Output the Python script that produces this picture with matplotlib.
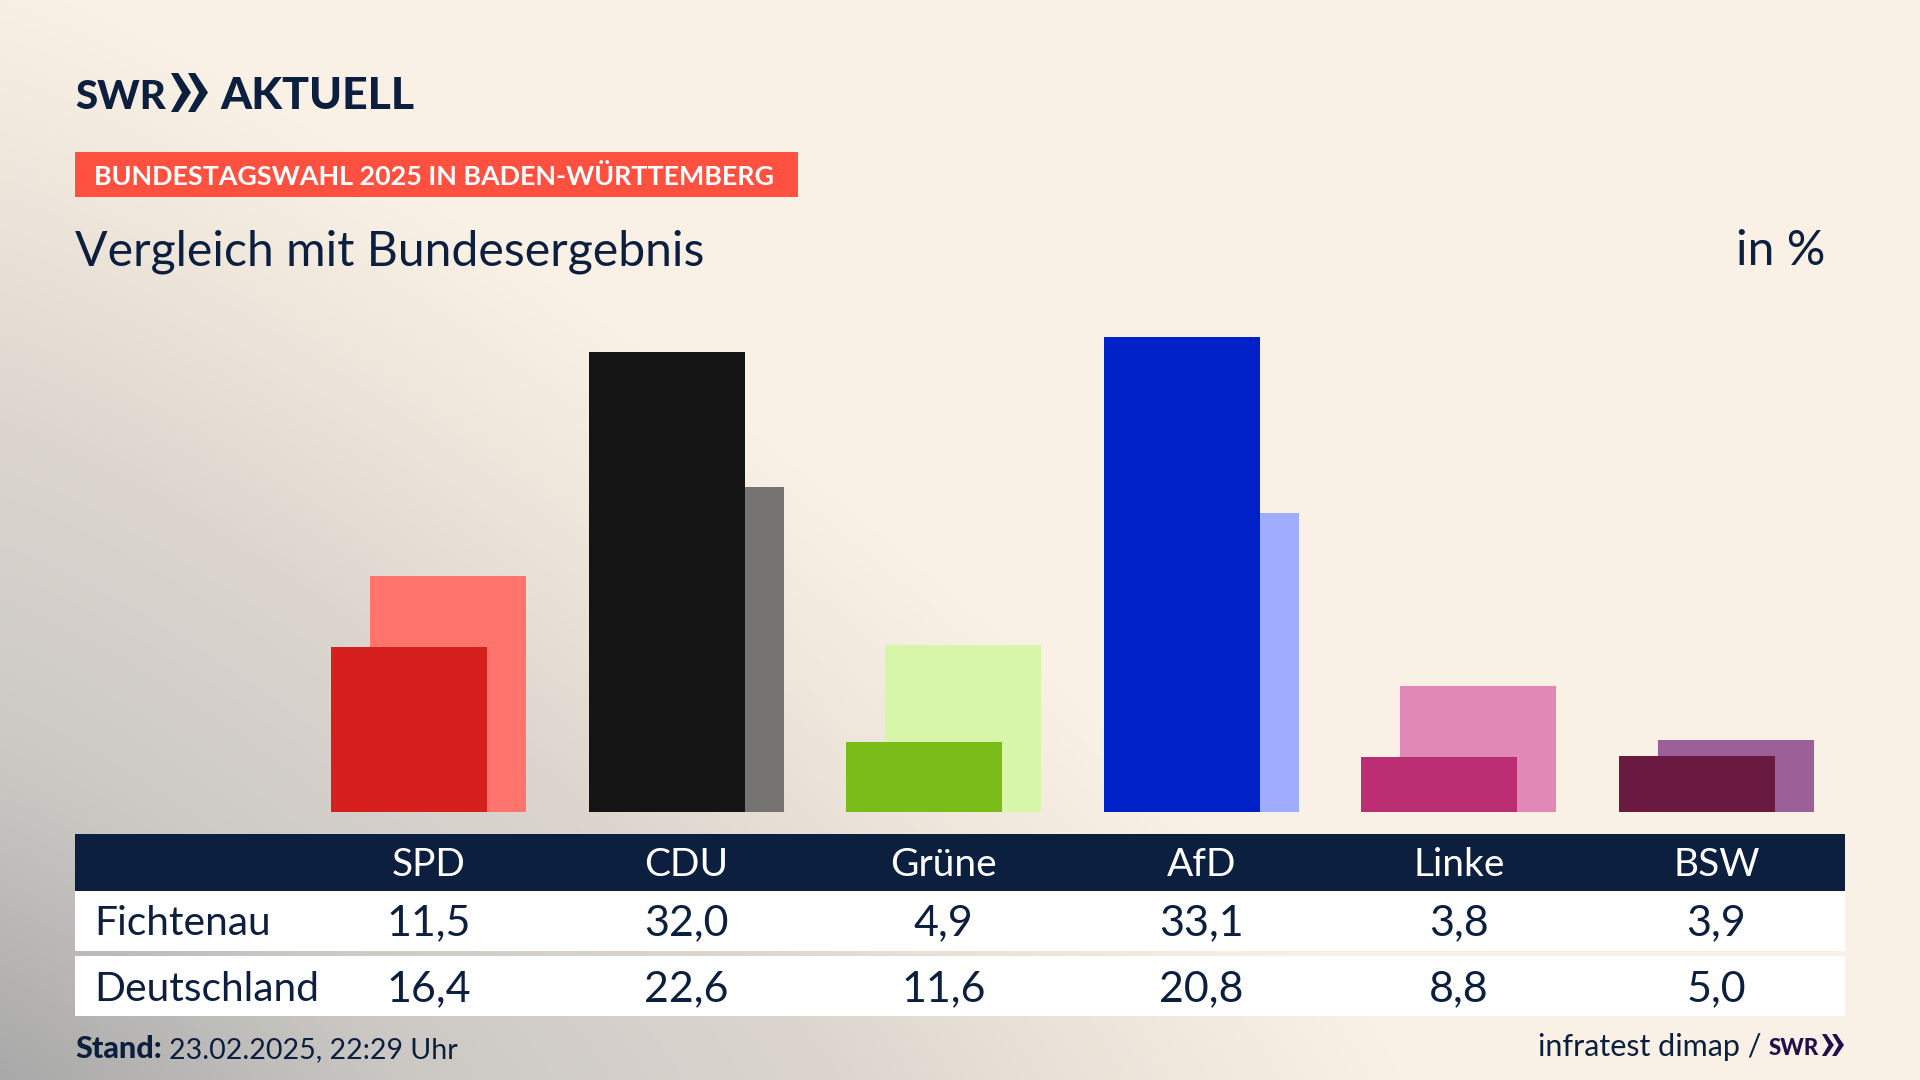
"""
Bundestagswahl 2025: Fichtenau compared with the national result (SWR Aktuell card).
"""

import matplotlib
matplotlib.use('Agg')
import matplotlib.pyplot as plt
import numpy as np
from matplotlib.colors import to_rgb
from matplotlib.patches import Polygon, Rectangle

parties = ['SPD', 'CDU', 'Grüne', 'AfD', 'Linke', 'BSW']
fichtenau = [11.5, 32.0, 4.9, 33.1, 3.8, 3.9]
deutschland = [16.4, 22.6, 11.6, 20.8, 8.8, 5.0]
colors_dark = ['#D6201E', '#141414', '#7ABD18', '#0020C8', '#BC2E74', '#6A1A40']
colors_light = ['#FF746C', '#757473', '#D8F6A9', '#A0ADFF', '#E088B6', '#9B6098']
rows = ['Fichtenau', 'Deutschland']

NAVY = '#0C1F3F'
W, H = 1920, 1080
FONT = 'Lato'

plt.rcParams['font.family'] = [FONT, 'DejaVu Sans']

fig = plt.figure(figsize=(W / 100, H / 100), dpi=100)

# background: gray glow out of the lower left corner, colours
bg = fig.add_axes([0, 0, 1, 1], zorder=0)
yy, xx = np.mgrid[0:H:270j, 0:W:480j]
p = 1.2
d = np.clip(((xx / 1400) ** p + ((H - yy) / 1100) ** p) ** (1 / p), 0, 1)
stops = [0, 0.3, 0.6, 0.73, 1]
stop_cols = np.array([to_rgb(c) for c in ['#A9A9A9', '#CCC9C5', '#DCD6CF', '#E8E0D6', '#FAF1E6']])
img = np.dstack([np.interp(d, stops, stop_cols[:, k]) for k in range(3)])
bg.imshow(img, extent=(0, W, H, 0), aspect='auto', interpolation='bilinear')
bg.set_xlim(0, W)
bg.set_ylim(H, 0)
bg.axis('off')

# pixel overlay for the table and all text
ov = fig.add_axes([0, 0, 1, 1], zorder=2)
ov.set_xlim(0, W)
ov.set_ylim(H, 0)
ov.axis('off')
ov.patch.set_alpha(0)

# bars
GROUP_X0 = 428.5
GROUP_STEP = 257.6
BAR_BASE = 812
BAR_TOP = 300
PX_PER_PCT = 14.36
BAR_W = 156 / GROUP_STEP
OFFSET = 19.5 / GROUP_STEP

ax = fig.add_axes([75 / W, (H - BAR_BASE) / H, (1845 - 75) / W, (BAR_BASE - BAR_TOP) / H], zorder=1)
ax.patch.set_alpha(0)
ax.set_xlim((75 - GROUP_X0) / GROUP_STEP, (1845 - GROUP_X0) / GROUP_STEP)
ax.set_ylim(0, (BAR_BASE - BAR_TOP) / PX_PER_PCT)
ax.axis('off')
pos = np.arange(len(parties))
ax.bar(pos + OFFSET, deutschland, BAR_W, color=colors_light, zorder=1)
ax.bar(pos - OFFSET, fichtenau, BAR_W, color=colors_dark, zorder=2)


def chevrons(x, y, w, h, color):
    # the two arrow heads of the SWR logo
    cw = w * 0.54
    for dx in (0, w - cw):
        ov.add_patch(Polygon([(x + dx, y), (x + dx + cw * 0.36, y), (x + dx + cw, y + h / 2),
                              (x + dx + cw * 0.36, y + h), (x + dx, y + h),
                              (x + dx + cw * 0.55, y + h / 2)],
                             closed=True, facecolor=color, edgecolor='none'))


# logo
ov.text(75, 109, 'SWR', fontsize=29, fontweight='black', color=NAVY, va='baseline', ha='left')
chevrons(171, 73, 37, 39, NAVY)
ov.text(220, 109, 'AKTUELL', fontsize=32, fontweight='black', color=NAVY, va='baseline', ha='left')

# badge and headline
ov.add_patch(Rectangle((75, 152), 723, 45, facecolor='#FF5040', edgecolor='none'))
ov.text(94, 185, 'BUNDESTAGSWAHL 2025 IN BADEN-WÜRTTEMBERG', fontsize=19.4, fontweight='bold',
        color='white', va='baseline', ha='left')
ov.text(75, 265, 'Vergleich mit Bundesergebnis', fontsize=34.7, color=NAVY, va='baseline', ha='left')
ov.text(1825, 265, 'in %', fontsize=34.7, color=NAVY, va='baseline', ha='right')

# table
ov.add_patch(Rectangle((75, 834), 1770, 57, facecolor=NAVY, edgecolor='none'))
ov.add_patch(Rectangle((75, 891), 1770, 60, facecolor='white', edgecolor='none'))
ov.add_patch(Rectangle((75, 956), 1770, 60, facecolor='white', edgecolor='none'))

for i, name in enumerate(parties):
    x = GROUP_X0 + i * GROUP_STEP
    ov.text(x, 876, name, fontsize=28, color='white', ha='center', va='baseline')
    ov.text(x, 935, f'{fichtenau[i]:.1f}'.replace('.', ','), fontsize=31, color=NAVY,
            ha='center', va='baseline')
    ov.text(x, 1001, f'{deutschland[i]:.1f}'.replace('.', ','), fontsize=31, color=NAVY,
            ha='center', va='baseline')

ov.text(94, 935, rows[0], fontsize=29.3, color=NAVY, ha='left', va='baseline')
ov.text(94, 1001, rows[1], fontsize=29.3, color=NAVY, ha='left', va='baseline')

# footer
ov.text(75, 1058, 'Stand:', fontsize=22, fontweight='black', color=NAVY, ha='left', va='baseline')
ov.text(169, 1058, '23.02.2025, 22:29 Uhr', fontsize=20.5, color=NAVY, ha='left', va='baseline')
ov.text(1761, 1056, 'infratest dimap /', fontsize=22, color=NAVY, ha='right', va='baseline')
ov.text(1769, 1055, 'SWR', fontsize=16, fontweight='black', color='#1F0F4A', ha='left', va='baseline')
chevrons(1822, 1034, 22, 22, '#1F0F4A')

fig.savefig('out.png', dpi=100)
